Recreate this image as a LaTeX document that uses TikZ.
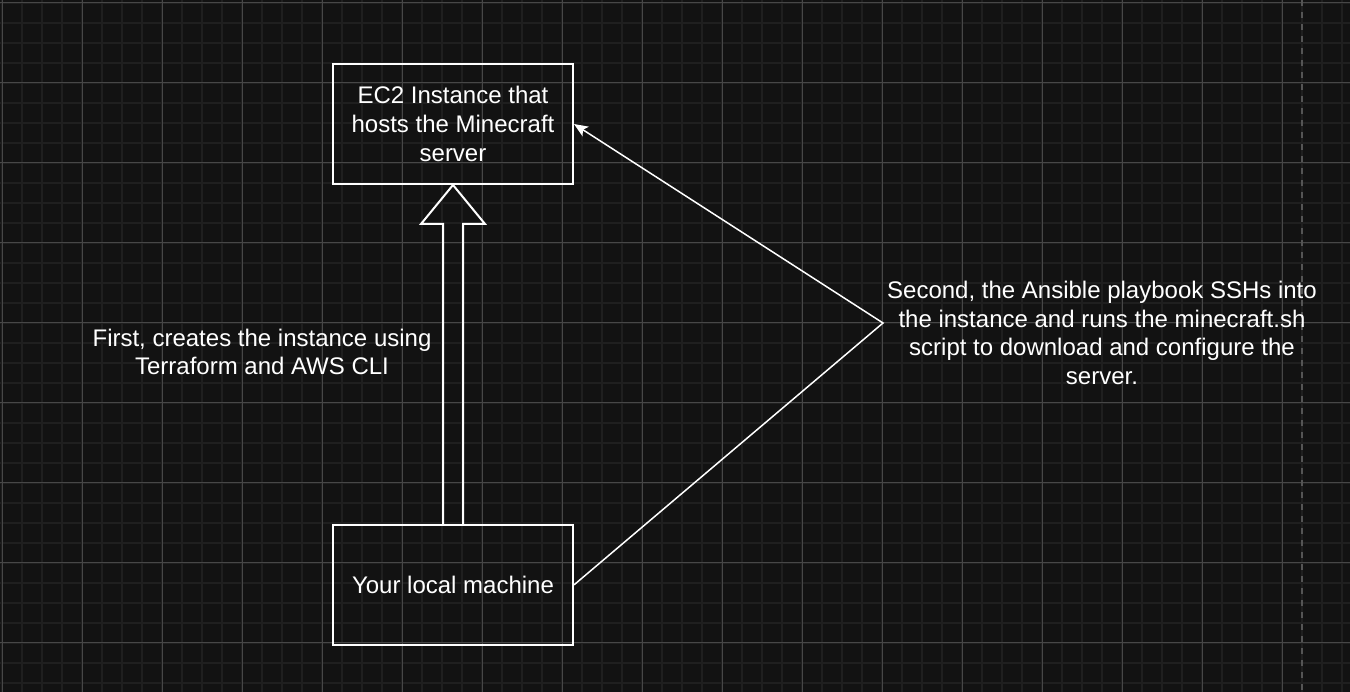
\documentclass[tikz,border=0pt]{standalone}
\usepackage{fontspec}
\setmainfont{Liberation Sans}
\usetikzlibrary{arrows.meta, positioning, calc}

\definecolor{canvas}{HTML}{121212}
\definecolor{minorline}{HTML}{1F1F1F}
\definecolor{majorline}{HTML}{474747}
\definecolor{dashline}{HTML}{555555}

\begin{document}
\begin{tikzpicture}[
        x=0.02cm, y=-0.02cm,
        % Estilos para las cajas
        hostbox/.style={
                rectangle,
                draw=white,
                line width=0.04cm,
                minimum width=4.8cm,
                minimum height=2.4cm,
                text centered,
                align=center,
                font=\fontsize{13.66}{16.4}\selectfont,
                text=white
            },
        % Etiquetas
        note/.style={
                align=center,
                font=\fontsize{13.66}{16.4}\selectfont,
                text=white
            },
        % Flechas
        blockarrow/.style={
                draw=white,
                line width=0.04cm,
                line join=miter
            },
        thinarrow/.style={
                -{Stealth[length=0.28cm, width=0.23cm, inset=0.07cm]},
                line width=0.03cm,
                color=white
            },
        minorgrid/.style={minorline, line width=0.035cm},
        majorgrid/.style={majorline, line width=0.02cm}
    ]

    % FONDO Y REJILLA
    \fill[canvas] (0,0) rectangle (1350,692);
    \useasboundingbox (0,0) rectangle (1350,692);
    \foreach \x in {2,22,...,1342} \draw[minorgrid] (\x,0) -- (\x,692);
    \foreach \y in {3,23,...,683} \draw[minorgrid] (0,\y) -- (1350,\y);
    \foreach \x in {2,82,...,1282} \draw[majorgrid] (\x,0) -- (\x,692);
    \foreach \y in {3,83,...,643} \draw[majorgrid] (0,\y) -- (1350,\y);
    \draw[dashline, line width=0.04cm, dash pattern=on 0.12cm off 0.12cm] (1302,0) -- (1302,692);

    % CAJAS
    \node[hostbox] (ec2) at (453,124) {EC2 Instance that\\hosts the Minecraft\\server};
    \node[hostbox, below=6.78cm of ec2] (local) {Your local machine};

    % ETIQUETAS
    \node[note] (first) at (262,352) {First, creates the instance using\\Terraform and AWS CLI};
    \node[note] (second) at (1102,333) {Second, the Ansible playbook SSHs into\\the instance and runs the minecraft.sh\\script to download and configure the\\server.};

    % FLECHAS
    \draw[blockarrow]
        ($(local.north)+(-10,0)$) -- ($(ec2.south)+(-10,39)$) -- ($(ec2.south)+(-32,39)$)
        -- (ec2.south) -- ($(ec2.south)+(32,39)$) -- ($(ec2.south)+(10,39)$)
        -- ($(local.north)+(10,0)$);
    \coordinate (bend) at (883,323);
    \draw[thinarrow] (local.east) -- (bend) -- (ec2.east);

\end{tikzpicture}
\end{document}
